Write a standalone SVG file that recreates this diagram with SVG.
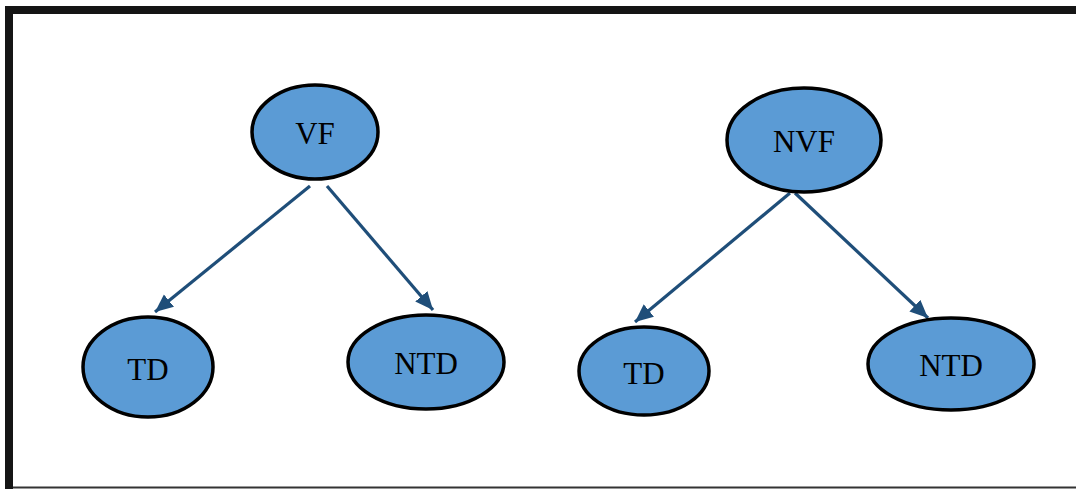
<svg xmlns="http://www.w3.org/2000/svg" width="1076" height="489" viewBox="0 0 1076 489">
<defs>
<style>
.node ellipse{fill:#5b9bd5;stroke:#000;stroke-width:3.5}
.node text{font-family:"Liberation Serif","Times New Roman",serif;font-size:31px;fill:#000;text-anchor:middle}
.edge{stroke:#1f4e79;stroke-width:3.2;fill:none;marker-end:url(#arr)}
</style>
<marker id="arr" markerUnits="userSpaceOnUse" markerWidth="20" markerHeight="18" refX="18" refY="8" orient="auto">
<path d="M0,0 L18,8 L0,16 Z" fill="#1f4e79"/>
</marker>
</defs>
<rect width="1076" height="489" fill="#fff"/>
<g id="frame">
<line x1="5" y1="10" x2="1076" y2="10" stroke="#151515" stroke-width="8"/>
<line x1="9" y1="6" x2="9" y2="489" stroke="#151515" stroke-width="8"/>
<line x1="13" y1="487.5" x2="1076" y2="487.5" stroke="#333" stroke-width="2"/>
</g>
<g id="connectors">
<line class="edge" x1="310" y1="186" x2="155" y2="312"/>
<line class="edge" x1="327" y1="186" x2="433" y2="310"/>
<line class="edge" x1="790" y1="193" x2="635" y2="322"/>
<line class="edge" x1="795" y1="193" x2="928" y2="318"/>
</g>
<g id="vf" class="node"><ellipse cx="315" cy="132" rx="63" ry="47"/><text x="315" y="144">VF</text></g>
<g id="nvf" class="node"><ellipse cx="804" cy="140" rx="77" ry="52"/><text x="804" y="152">NVF</text></g>
<g id="td1" class="node"><ellipse cx="148" cy="367" rx="65" ry="50"/><text x="148" y="380">TD</text></g>
<g id="ntd1" class="node"><ellipse cx="426" cy="362" rx="78" ry="47"/><text x="426" y="374">NTD</text></g>
<g id="td2" class="node"><ellipse cx="644" cy="371" rx="65" ry="44"/><text x="644" y="384">TD</text></g>
<g id="ntd2" class="node"><ellipse cx="951" cy="364" rx="83" ry="46"/><text x="951" y="376">NTD</text></g>
</svg>
